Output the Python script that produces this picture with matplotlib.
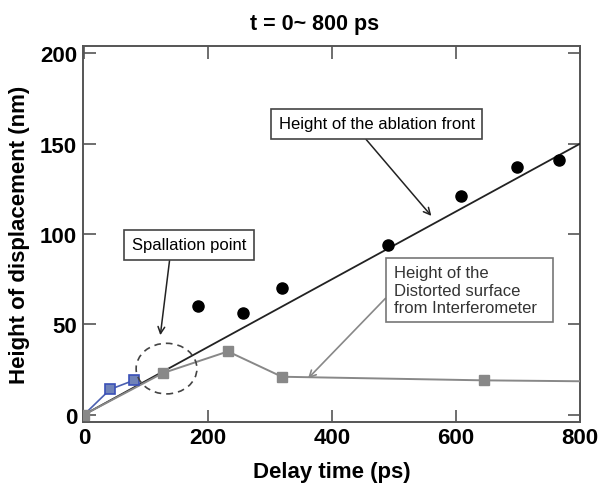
import matplotlib
matplotlib.use("Agg")
import matplotlib.pyplot as plt
from matplotlib.patches import Ellipse

plt.rcParams['font.family'] = ['Liberation Sans', 'DejaVu Sans']

# Data
ablation_t = [184, 257, 319, 490, 608, 698, 766]
ablation_h = [60, 56, 70, 94, 121, 137, 141]
fit_t = [0, 800]
fit_h = [0, 150]
blue_t = [0, 42, 80]
blue_h = [0, 14, 19]
gray_t = [0, 127, 232, 319, 645]
gray_h = [0, 23, 35, 21, 19]
gray_line_t = [0, 127, 232, 319, 645, 800]
gray_line_h = [0, 23, 35, 21, 19, 18.5]

xticks = [0, 200, 400, 600, 800]
yticks = [0, 50, 100, 150, 200]

fig = plt.figure(figsize=(6, 4.85), dpi=100)
ax = fig.add_axes([0.138, 0.128, 0.829, 0.775])

spine_c = '#555555'
ax.plot(fit_t, fit_h, color='#222222', lw=1.3, zorder=3)
ax.plot(gray_line_t, gray_line_h, color='#888888', lw=1.4, zorder=3)
ax.plot(gray_t, gray_h, 's', color='#888888', ms=7, zorder=4)
ax.plot(blue_t, blue_h, color='#4a5fb0', lw=1.2, zorder=3)
ax.plot(blue_t[1:], blue_h[1:], 's', mfc='#7083b8', mec='#3a50b8', mew=1.2, ms=7, zorder=5)
ax.plot(ablation_t, ablation_h, 'o', color='black', ms=8, zorder=5)

ax.add_patch(Ellipse((133, 25.5), 98, 28, fill=False, ls=(0, (4, 3)),
                     ec='#444444', lw=1.2, zorder=6))

ax.set_xlim(-2, 800)
ax.set_ylim(-4, 204)
ax.set_xticks(xticks)
ax.set_yticks(yticks)
ax.tick_params(direction='in', length=9, width=1.2, color=spine_c,
               top=True, right=True, labelsize=16, pad=4)
for lab in ax.get_xticklabels() + ax.get_yticklabels():
    lab.set_fontweight('bold')
for s in ax.spines.values():
    s.set_color(spine_c)
    s.set_linewidth(1.4)

ax.set_xlabel('Delay time (ps)', fontsize=16, fontweight='bold', labelpad=9)
ax.set_ylabel('Height of displacement (nm)', fontsize=16, fontweight='bold', labelpad=7)
ax.set_title('t = 0~ 800 ps', fontsize=15.5, fontweight='bold', pad=12, x=0.465)

box = dict(boxstyle='square,pad=0.45', fc='white', ec='#444444', lw=1.2)
ax.annotate('Height of the ablation front', xy=(560, 110), xytext=(472, 161),
            fontsize=12, ha='center', va='center', bbox=box,
            arrowprops=dict(arrowstyle='->', color='#222222', lw=1.1,
                            shrinkA=0, shrinkB=0, relpos=(0.41, 0.0)), zorder=7)
ax.annotate('Spallation point', xy=(123, 44), xytext=(169, 94),
            fontsize=12, ha='center', va='center', bbox=box,
            arrowprops=dict(arrowstyle='->', color='#222222', lw=1.1,
                            shrinkA=0, shrinkB=0, relpos=(0.34, 0.0)), zorder=7)
box2 = dict(boxstyle='square,pad=0.45', fc='white', ec='#777777', lw=1.2)
ax.annotate('Height of the\nDistorted surface\nfrom Interferometer  ', xy=(361, 20),
            xytext=(499, 69), fontsize=12, ha='left', va='center', bbox=box2,
            color='#333333', linespacing=1.2,
            arrowprops=dict(arrowstyle='->', color='#888888', lw=1.2,
                            shrinkA=0, shrinkB=0, relpos=(0.0, 0.5)), zorder=7)

fig.savefig('out.png', dpi=100)
